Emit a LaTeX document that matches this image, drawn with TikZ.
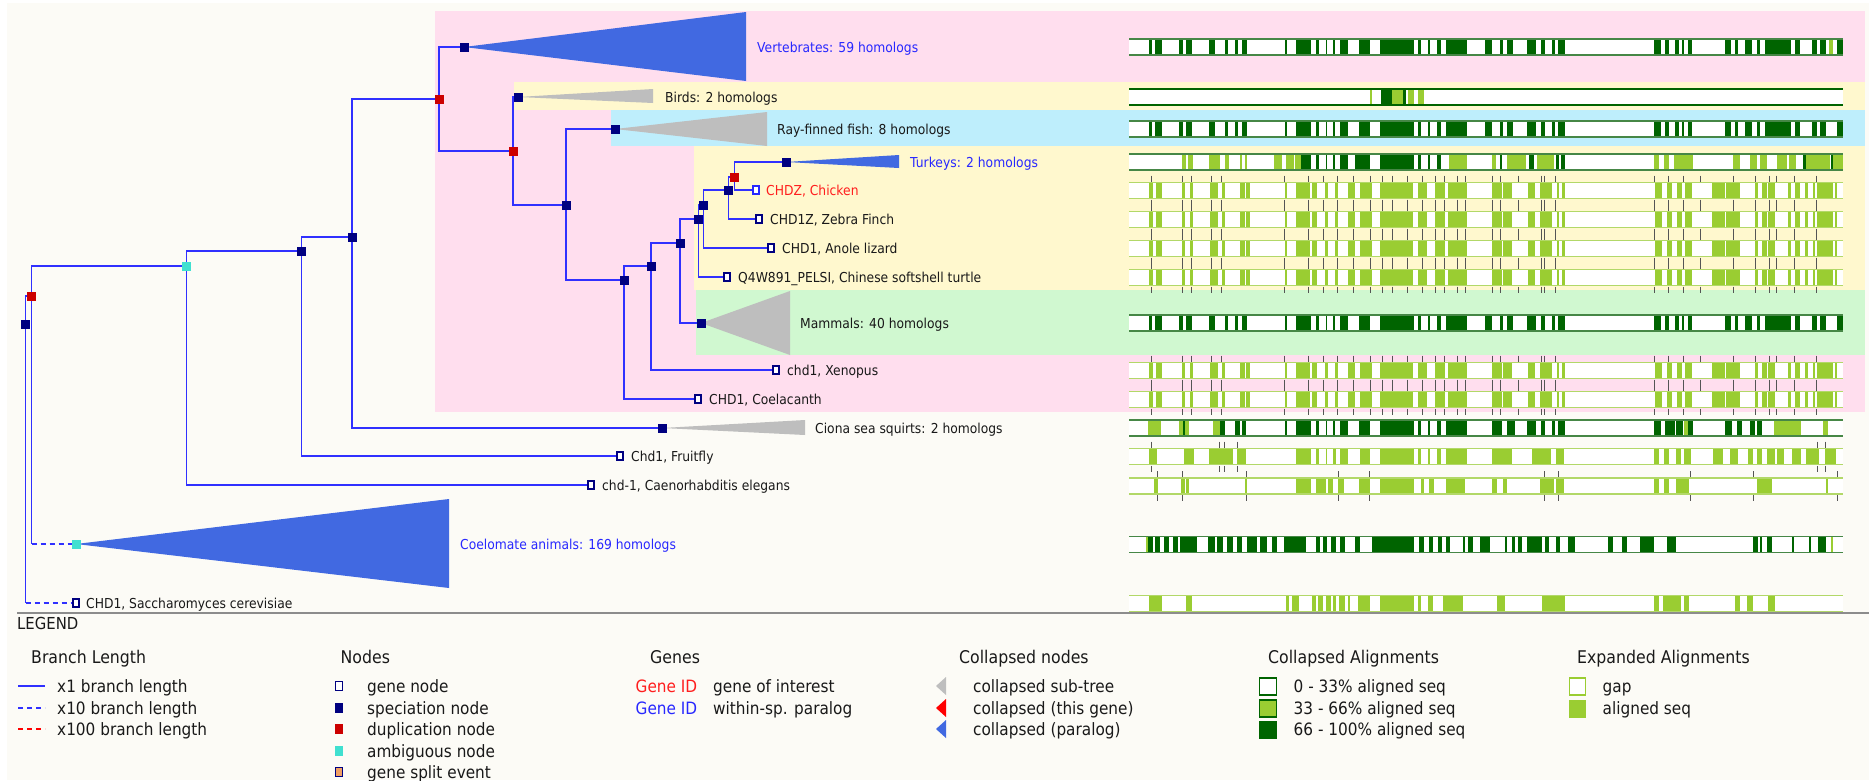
\documentclass[tikz,border=0pt]{standalone}
\usepackage{fontspec}
\setmainfont{DejaVu Sans}[FakeStretch=0.9]
\pgfdeclarelayer{back}
\pgfdeclarelayer{edges}
\pgfsetlayers{back,edges,main}

\definecolor{bgoff}{RGB}{252,251,246}
\definecolor{pinkbg}{RGB}{255,222,238}
\definecolor{yelbg}{RGB}{255,248,206}
\definecolor{bluebg}{RGB}{190,238,252}
\definecolor{greenbg}{RGB}{208,248,208}
\definecolor{branch}{RGB}{48,48,255}
\definecolor{spec}{RGB}{0,0,128}
\definecolor{dup}{RGB}{204,0,0}
\definecolor{amb}{RGB}{64,224,208}
\definecolor{collgray}{RGB}{190,190,190}
\definecolor{collblue}{RGB}{65,105,225}
\definecolor{dkgreen}{RGB}{0,100,0}
\definecolor{ygreen}{RGB}{154,205,50}
\definecolor{ygline}{RGB}{178,216,104}
\definecolor{dgline}{RGB}{70,135,70}
\definecolor{labelblue}{RGB}{40,40,255}
\definecolor{labelred}{RGB}{255,30,30}
\definecolor{txt}{RGB}{25,25,25}
\definecolor{splitfill}{RGB}{240,160,100}
\definecolor{rule}{RGB}{140,140,140}
\definecolor{tickgray}{RGB}{85,85,85}

\tikzset{
  br/.style={draw=branch, line width=1.6pt},
  brx/.style={br, dash pattern=on 5pt off 4pt},
  snode/.style={rectangle, fill=spec, minimum width=9pt, minimum height=9pt, inner sep=0pt},
  dnode/.style={snode, fill=dup},
  anode/.style={snode, fill=amb},
  gnode/.style={rectangle, draw=spec, fill=white, line width=1.2pt, minimum width=6pt, minimum height=8pt, inner sep=0pt},
  tlab/.style={anchor=west, inner sep=0pt, text height=10pt, text depth=0pt, font=\fontsize{13.7pt}{16pt}\selectfont, text=txt},
  bluelab/.style={tlab, text=labelblue},
  redlab/.style={tlab, text=labelred},
  lhead/.style={anchor=west, inner sep=0pt, text height=12.8pt, text depth=0pt, font=\fontsize{17.5pt}{20pt}\selectfont, text=txt},
  litem/.style={anchor=west, inner sep=0pt, text height=12.4pt, text depth=0pt, font=\fontsize{17pt}{20pt}\selectfont, text=txt},
  tickmark/.style={draw=tickgray, line width=0.9pt},
}

% alignment rows: white bar, coloured blocks, rims, intron ticks
\newcommand\alnfill[1]{\fill[white] (1129,#1-8) rectangle (1843,#1+8);}
\newcommand\alnseg[3]{\foreach \a/\b in #3 {\fill[#2] (\a,#1-8) rectangle (\b,#1+8);}}
\newcommand\alnrim[2]{\draw[#2,line width=1.4pt] (1129,#1-8) -- (1843,#1-8) (1129,#1+8) -- (1843,#1+8);}
\newcommand\alnticks[2]{\foreach \t in #2 {\draw[tickmark] (\t,#1-15) -- (\t,#1-9) (\t,#1+9) -- (\t,#1+15);}}

\def\patA{1149/1152,1155/1162,1179/1183,1186/1192,1209/1215,1225/1228,1235/1238,1242/1247,1285/1286.5,1296/1311,1316/1319,1325.5/1327,1333/1334.5,1340/1348,1359/1370,1379.5/1414,1418/1421,1427.5/1430,1437/1441,1446/1467,1485/1492,1500/1503,1507/1513,1527/1536,1541/1545,1552/1555,1558/1565,1654/1661,1665/1669,1675/1679,1682/1684,1688/1692,1725/1731,1735/1738,1745/1752,1757/1760,1765/1791,1795/1800,1812/1817,1820/1826,1837/1843}
\def\patB{1149/1153,1156/1162,1182/1185,1190/1193,1210/1218,1222/1225,1240/1245,1246/1250,1285/1287,1296/1310,1312/1317,1325/1328,1335/1338,1348/1355,1360/1372,1380/1413,1418/1427,1435/1445,1448/1467,1492/1502,1503/1512,1528/1535,1540/1552,1557/1559,1562/1565,1655/1662,1667/1672,1677/1682,1685/1692,1712/1725,1726/1740,1755/1758,1762/1767,1768/1775,1788/1791,1795/1800,1805/1808,1813/1815,1817/1833,1835/1837}
\def\turkL{1182/1186,1188/1193,1209/1220,1225/1228.5,1240/1242,1245/1247,1274/1282,1286/1294,1295/1301,1449/1467,1492/1496,1507/1526,1536.5/1553.5,1654/1659,1664/1669,1674/1693,1733/1740,1750/1757,1760/1767,1777/1787,1789/1796,1806/1830,1833/1843}
\def\turkD{1301/1311,1316/1319,1325.5/1327,1333/1334.5,1340/1348,1355/1370,1379.5/1414,1418/1421,1427.5/1430,1437/1441,1500/1502,1529/1534,1556/1558.5,1561/1565,1803/1806,1830.5/1833}
\def\birdL{1369.5/1372,1392/1403,1408/1414,1418/1424}
\def\birdD{1381/1392,1403/1406}
\def\cioL{1147.5/1161,1178.5/1182.5,1184.5/1189,1213/1220,1684/1688.5,1774/1801,1823/1828}
\def\cioD{1182.5/1184.5,1220/1225,1235/1240,1242/1246,1285/1286.5,1296/1311,1316/1319,1325.5/1327,1333/1334.5,1340/1348,1359/1370,1379.5/1414,1418/1421,1427.5/1430,1437/1441,1446/1467,1492/1502,1507/1515,1527/1536,1541/1545,1552/1555,1558/1565,1654/1661,1665/1675,1676/1683,1688/1693,1725/1732,1737/1742,1750/1755,1757/1762}
\def\flyL{1149/1156.5,1184/1194,1209/1232.5,1237/1246,1296/1311,1316/1319,1325.5/1327,1333/1335.5,1340/1348,1360/1370,1379.5/1414,1418/1421,1427.5/1430,1437/1441,1446/1467,1492/1512,1531.5/1551,1556/1563.5,1654/1659,1664/1669,1676/1681,1683.5/1691,1713/1722.5,1730/1737.5,1747.5/1752.5,1757/1762,1767/1774.5,1777/1784,1791.5/1801,1806/1818.5,1825/1835.5}
\def\eleL{1154/1158,1181/1184.5,1186/1189,1244.5/1247,1296/1311,1316/1325.5,1328/1333,1338/1343.5,1359/1370,1379.5/1414,1421/1423.5,1428.5/1433.5,1446/1465,1492/1497,1503/1507,1540/1553.5,1556/1563.5,1654/1659,1664/1669,1676/1688.5,1757/1771.5,1826/1828}
\def\coeD{1148/1153,1155/1160,1164/1169,1172.5/1177.5,1180/1196.5,1208/1215,1216.5/1222.5,1226.5/1232.5,1237/1242,1247/1257,1259.5/1266.5,1271.5/1276.5,1284/1306,1316/1320,1323/1327,1330.5/1335.5,1340/1345,1355/1360,1372/1414,1419/1423.5,1428.5/1432.5,1437.5/1442,1446/1450,1463/1465,1468/1472.5,1480/1490,1504.5/1507,1512/1514.5,1518/1521.5,1526.5/1541.5,1545/1548.5,1556/1559.5,1568/1574.5,1607.5/1612.5,1622/1627,1639.5/1654,1666.5/1676,1753/1758,1759.5/1762,1767/1772,1791.5/1794,1808.5/1811,1818/1826}
\def\coeL{1145.5/1148,1830.5/1833}
\def\sacL{1149/1161.5,1186/1192,1285.5/1289,1292/1298.5,1312/1316,1318/1323,1325.5/1330.5,1333/1335.5,1339/1345,1347.5/1350,1357.5/1370,1379.5/1414,1418/1421,1427.5/1432.5,1443/1463,1497/1504.5,1541.5/1565,1654/1659,1663/1681,1683.5/1688.5,1735/1739.5,1746.5/1752.5,1767.5/1774.5}
\def\tickA{1151.5,1182.5,1191.5,1211.5,1221.5,1284,1308.5,1323,1337.5,1353.5,1370,1382,1392,1407.5,1422.5,1435,1444.5,1457.5,1465.5,1492,1500,1518,1541,1544,1555.5,1654.5,1668.5,1683.5,1700,1733.5,1755,1769.5,1776.5,1794,1816}
\def\tickFly{1151.5,1219,1224,1237,1817.5,1825}
\def\tickEle{1157.5,1182.5,1246.5,1338.5,1369.5,1544,1558.5,1690,1753.5,1837}

\begin{document}
\begin{tikzpicture}[x=1pt,y=-1pt]
\useasboundingbox (0,0) rectangle (1869,780);

% ---------- background and clade bands ----------
\begin{pgfonlayer}{back}
  \fill[white] (0,0) rectangle (1869,780);
  \fill[bgoff] (7,3) rectangle (1869,780);
  \fill[pinkbg] (435,11) rectangle (1865,412);
  \fill[yelbg] (514,82) rectangle (1865,110);
  \fill[bluebg] (611,110) rectangle (1865,146);
  \fill[yelbg] (694,146) rectangle (1865,290);
  \fill[greenbg] (696,290) rectangle (1865,355);
  \draw[rule, line width=2pt] (17,613) -- (1869,613);
\end{pgfonlayer}

% ---------- tree nodes ----------
\node[snode] (S0) at (25.5,324) {};
\node[dnode] (R0) at (31.5,296) {};
\node[anode] (A1) at (186.5,266) {};
\node[anode] (A2) at (76,544) {};
\node[gnode] (gSac) at (76,603) {};
\node[snode] (S1) at (301.5,251) {};
\node[gnode] (gEle) at (591,485) {};
\node[snode] (S2) at (352,237) {};
\node[gnode] (gFly) at (620,456) {};
\node[dnode] (R1) at (439,99) {};
\node[snode] (Sci) at (662,428) {};
\node[snode] (S3) at (464,47) {};
\node[dnode] (R2) at (513,151) {};
\node[snode] (Sbird) at (518,97) {};
\node[snode] (S4) at (566,205) {};
\node[snode] (Sfish) at (615,129) {};
\node[snode] (S5) at (624,280) {};
\node[snode] (S6) at (651,266) {};
\node[gnode] (gCoel) at (698,399) {};
\node[snode] (S7) at (680,243) {};
\node[gnode] (gXen) at (776,370) {};
\node[snode] (S8) at (698.5,219) {};
\node[snode] (Smam) at (701,323) {};
\node[snode] (S9) at (703.5,205) {};
\node[gnode] (gTurt) at (727,277) {};
\node[snode] (S10) at (728.5,190) {};
\node[gnode] (gAno) at (771,248) {};
\node[dnode] (R3) at (734.5,177) {};
\node[gnode] (gZeb) at (759,219) {};
\node[snode] (Stur) at (786,162) {};
\node[gnode, draw=labelblue] (gChi) at (756,190) {};

% ---------- branches and collapsed sub-trees ----------
\begin{pgfonlayer}{edges}
  \foreach \p/\c in {S0/R0, R0/A1, A1/S1, A1/gEle, S1/S2, S1/gFly, S2/R1, S2/Sci,
                     R1/S3, R1/R2, R2/Sbird, R2/S4, S4/Sfish, S4/S5, S5/S6, S5/gCoel,
                     S6/S7, S6/gXen, S7/S8, S7/Smam, S8/S9, S8/gTurt, S9/S10, S9/gAno,
                     S10/R3, S10/gZeb, R3/Stur, R3/gChi}
    \draw[br] (\p.center) |- (\c.center);
  \draw[br] (S0.center) -- (S0.center |- gSac.center);
  \draw[brx] (S0.center |- gSac.center) -- (gSac.center);
  \draw[br] (R0.center) -- (R0.center |- A2.center);
  \draw[brx] (R0.center |- A2.center) -- (A2.center);

  \fill[collblue] (S3.center) -- (746,12) -- (746,81) -- cycle;
  \fill[collgray] (Sbird.center) -- (653,89) -- (653,103) -- cycle;
  \fill[collgray] (Sfish.center) -- (767,112) -- (767,146) -- cycle;
  \fill[collblue] (Stur.center) -- (899,155) -- (899,168) -- cycle;
  \fill[collgray] (Smam.center) -- (790,291) -- (790,355) -- cycle;
  \fill[collgray] (Sci.center) -- (805,420) -- (805,435) -- cycle;
  \fill[collblue] (A2.center) -- (449,499) -- (449,588) -- cycle;
\end{pgfonlayer}

% ---------- leaf and clade labels ----------
\node[bluelab] (lVert) at (757,47) {Vertebrates: 59 homologs};
\node[tlab] (lBird) at (665,97) {Birds: 2 homologs};
\node[tlab] (lFish) at (777,129) {Ray-finned fish: 8 homologs};
\node[bluelab] (lTurk) at (910,162) {Turkeys: 2 homologs};
\node[redlab] (lChi) at (766,190) {CHDZ, Chicken};
\node[tlab] (lZeb) at (770,219) {CHD1Z, Zebra Finch};
\node[tlab] (lAno) at (782,248) {CHD1, Anole lizard};
\node[tlab] (lTurt) at (738,277) {Q4W891\_PELSI, Chinese softshell turtle};
\node[tlab] (lMam) at (800,323) {Mammals: 40 homologs};
\node[tlab] (lXen) at (787,370) {chd1, Xenopus};
\node[tlab] (lCoel) at (709,399) {CHD1, Coelacanth};
\node[tlab] (lCio) at (815,428) {Ciona sea squirts: 2 homologs};
\node[tlab] (lFly) at (631,456) {Chd1, Fruitfly};
\node[tlab] (lEle) at (602,485) {chd-1, Caenorhabditis elegans};
\node[bluelab] (lCoe) at (460,544) {Coelomate animals: 169 homologs};
\node[tlab] (lSac) at (86,603) {CHD1, Saccharomyces cerevisiae};

% ---------- alignment overview ----------
% Vertebrates (collapsed)
\alnfill{47}\alnseg{47}{dkgreen}{\patA}\alnseg{47}{ygreen}{{1829/1833}}\alnrim{47}{dgline}
% Birds (collapsed)
\alnfill{97}\alnseg{97}{ygreen}{\birdL}\alnseg{97}{dkgreen}{\birdD}\alnrim{97}{dkgreen}
% Ray-finned fish (collapsed)
\alnfill{129}\alnseg{129}{dkgreen}{\patA}\alnrim{129}{dgline}
% Turkeys (collapsed)
\alnfill{162}\alnseg{162}{ygreen}{\turkL}\alnseg{162}{dkgreen}{\turkD}\alnrim{162}{dgline}
% expanded genes of the bird/reptile clade
\foreach \yy in {190.5,219.5,248.5,277.5} {
  \alnfill{\yy}\alnseg{\yy}{ygreen}{\patB}\alnrim{\yy}{ygline}\alnticks{\yy}{\tickA}
}
% Mammals (collapsed)
\alnfill{323}\alnseg{323}{dkgreen}{\patA}\alnrim{323}{dgline}
% Xenopus and Coelacanth
\foreach \yy in {370.5,399.5} {
  \alnfill{\yy}\alnseg{\yy}{ygreen}{\patB}\alnrim{\yy}{ygline}\alnticks{\yy}{\tickA}
}
% Ciona (collapsed)
\alnfill{428}\alnseg{428}{ygreen}{\cioL}\alnseg{428}{dkgreen}{\cioD}\alnrim{428}{dgline}
% Fruitfly
\alnfill{456.5}\alnseg{456.5}{ygreen}{\flyL}\alnrim{456.5}{ygline}\alnticks{456.5}{\tickFly}
% C. elegans
\alnfill{486}\alnseg{486}{ygreen}{\eleL}\alnrim{486}{ygline}\alnticks{486}{\tickEle}
% Coelomate animals (collapsed)
\alnfill{544.5}\alnseg{544.5}{dkgreen}{\coeD}\alnseg{544.5}{ygreen}{\coeL}\alnrim{544.5}{dgline}
% Saccharomyces
\alnfill{603.5}\alnseg{603.5}{ygreen}{\sacL}\alnrim{603.5}{ygline}

% ---------- legend ----------
\node[anchor=west, inner sep=0pt, text height=11.7pt, text depth=0pt, font=\fontsize{16.5pt}{19pt}\selectfont, text=txt] (legend) at (17,624) {LEGEND};

\node[lhead] (hBranch) at (31,657) {Branch Length};
\draw[br] (18,686) -- (45,686);
\draw[brx] (18,708) -- (45,708);
\draw[brx, draw=red] (18,729) -- (45,729);
\node[litem] (iB1) at (57,686) {x1 branch length};
\node[litem] (iB2) at (57,708) {x10 branch length};
\node[litem] (iB3) at (57,729) {x100 branch length};

\node[lhead] (hNodes) at (340.5,657) {Nodes};
\node[gnode, minimum width=7pt, minimum height=9pt] (kGene) at (339,686) {};
\node[snode, minimum width=8pt, minimum height=10pt] (kSpec) at (339,708) {};
\node[dnode, minimum width=8pt, minimum height=10pt] (kDup) at (339,729) {};
\node[anode, minimum width=8pt, minimum height=10pt] (kAmb) at (339,751) {};
\node[gnode, fill=splitfill, minimum width=7pt, minimum height=9pt] (kSplit) at (339,772) {};
\node[litem] (iN1) at (367,686) {gene node};
\node[litem] (iN2) at (367,708) {speciation node};
\node[litem] (iN3) at (367,729) {duplication node};
\node[litem] (iN4) at (367,751) {ambiguous node};
\node[litem] (iN5) at (367,772) {gene split event};

\node[lhead] (hGenes) at (650,657) {Genes};
\node[litem, text=labelred] (iG1a) at (635.5,686) {Gene ID};
\node[litem, text=labelblue] (iG2a) at (635.5,708) {Gene ID};
\node[litem] (iG1) at (713,686) {gene of interest};
\node[litem] (iG2) at (713,708) {within-sp. paralog};

\node[lhead] (hColl) at (959,657) {Collapsed nodes};
\fill[collgray] (936,686) -- (946,677) -- (946,695) -- cycle;
\fill[red] (936,708) -- (946,699) -- (946,717) -- cycle;
\fill[collblue] (936,729) -- (946,720) -- (946,738) -- cycle;
\node[litem] (iC1) at (973,686) {collapsed sub-tree};
\node[litem] (iC2) at (973,708) {collapsed (this gene)};
\node[litem] (iC3) at (973,729) {collapsed (paralog)};

\node[lhead] (hCA) at (1268,657) {Collapsed Alignments};
\filldraw[fill=white, draw=dkgreen, line width=1.3pt] (1259.5,678) rectangle (1276.5,695);
\filldraw[fill=ygreen, draw=dkgreen, line width=1.3pt] (1259.5,700) rectangle (1276.5,717);
\fill[dkgreen] (1258.8,720.5) rectangle (1277.2,738.5);
\node[litem] (iA1) at (1293.5,686) {0 - 33\% aligned seq};
\node[litem] (iA2) at (1293.5,708) {33 - 66\% aligned seq};
\node[litem] (iA3) at (1293.5,729) {66 - 100\% aligned seq};

\node[lhead] (hEA) at (1577,657) {Expanded Alignments};
\filldraw[fill=white, draw=ygreen, line width=1.3pt] (1569.5,678) rectangle (1585.5,695);
\fill[ygreen] (1568.8,699.5) rectangle (1586.2,717.5);
\node[litem] (iE1) at (1602.5,686) {gap};
\node[litem] (iE2) at (1602.5,708) {aligned seq};
\end{tikzpicture}
\end{document}
